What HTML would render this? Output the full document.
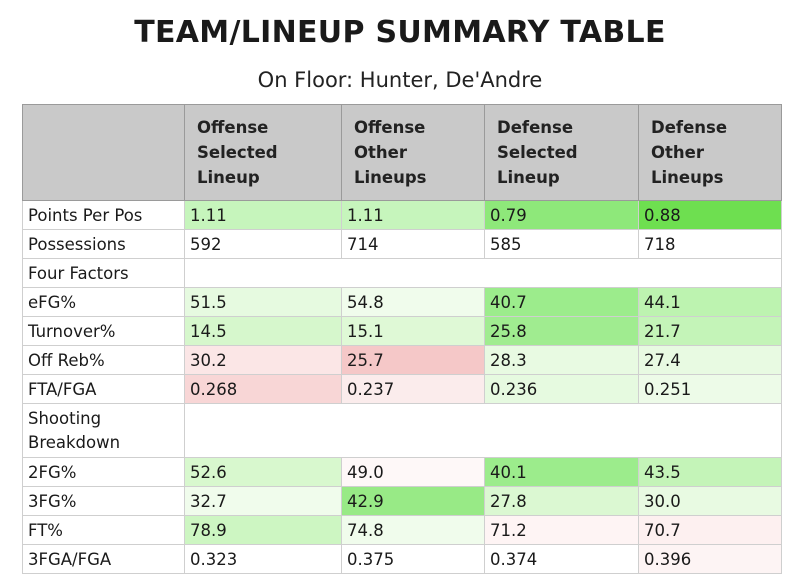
<!DOCTYPE html>
<html><head><meta charset="utf-8"><style>
body{margin:0;width:800px;height:582px;background:#fff;font-family:"DejaVu Sans","Liberation Sans",sans-serif;color:#1a1a1a;overflow:hidden}
#title{position:absolute;top:15px;left:0;width:800px;text-align:center;font-weight:bold;font-size:30px;letter-spacing:0.3px}
#sub{position:absolute;top:68px;left:0;width:800px;text-align:center;font-size:21px;color:#222}
table{position:absolute;left:22px;top:104px;border-collapse:collapse;font-size:16.5px;table-layout:fixed}
td,th{border:1px solid #cfcfcf;padding:0 0 0 5px;text-align:left;vertical-align:middle;height:28px;white-space:nowrap}
th{background:#c9c9c9;font-weight:bold;height:95px;line-height:25px;color:#222;vertical-align:middle;padding-left:12px;border-color:#9a9a9a}
tr.tall td{height:53px;line-height:24px;white-space:normal}
</style></head><body>
<div id="title">TEAM/LINEUP SUMMARY TABLE</div>
<div id="sub">On Floor: Hunter, De'Andre</div>
<table>
<colgroup><col style="width:162px"><col style="width:157px"><col style="width:143px"><col style="width:154px"><col style="width:143px"></colgroup>
<tr><th style="border-color:#9a9a9a"></th><th>Offense<br>Selected<br>Lineup</th><th>Offense<br>Other<br>Lineups</th><th>Defense<br>Selected<br>Lineup</th><th>Defense<br>Other<br>Lineups</th></tr>
<tr><td>Points Per Pos</td><td style="background:#c6f5bc">1.11</td><td style="background:#c6f5bc">1.11</td><td style="background:#8ee87a">0.79</td><td style="background:#6edf50">0.88</td></tr>
<tr><td>Possessions</td><td>592</td><td>714</td><td>585</td><td>718</td></tr>
<tr><td>Four Factors</td><td colspan="4"></td></tr>
<tr><td>eFG%</td><td style="background:#e6fae0">51.5</td><td style="background:#f0fcec">54.8</td><td style="background:#9cec8c">40.7</td><td style="background:#bdf3b0">44.1</td></tr>
<tr><td>Turnover%</td><td style="background:#d6f7cc">14.5</td><td style="background:#dff9d6">15.1</td><td style="background:#a0ec90">25.8</td><td style="background:#c4f4b8">21.7</td></tr>
<tr><td>Off Reb%</td><td style="background:#fbe6e6">30.2</td><td style="background:#f5c8c8">25.7</td><td style="background:#e8fae2">28.3</td><td style="background:#e8fae2">27.4</td></tr>
<tr><td>FTA/FGA</td><td style="background:#f8d6d6">0.268</td><td style="background:#fbecec">0.237</td><td style="background:#e6fae0">0.236</td><td style="background:#edfbe8">0.251</td></tr>
<tr class="tall"><td>Shooting<br>Breakdown</td><td colspan="4"></td></tr>
<tr><td>2FG%</td><td style="background:#d8f8ce">52.6</td><td style="background:#fef8f8">49.0</td><td style="background:#9cec8c">40.1</td><td style="background:#c4f4b8">43.5</td></tr>
<tr><td>3FG%</td><td style="background:#f0fcec">32.7</td><td style="background:#98ea86">42.9</td><td style="background:#dbf8d2">27.8</td><td style="background:#e8fae2">30.0</td></tr>
<tr><td>FT%</td><td style="background:#cdf6c2">78.9</td><td style="background:#f0fcec">74.8</td><td style="background:#fef4f4">71.2</td><td style="background:#fdf0f0">70.7</td></tr>
<tr><td>3FGA/FGA</td><td>0.323</td><td>0.375</td><td>0.374</td><td style="background:#fdf4f4">0.396</td></tr>
</table>
</body></html>
